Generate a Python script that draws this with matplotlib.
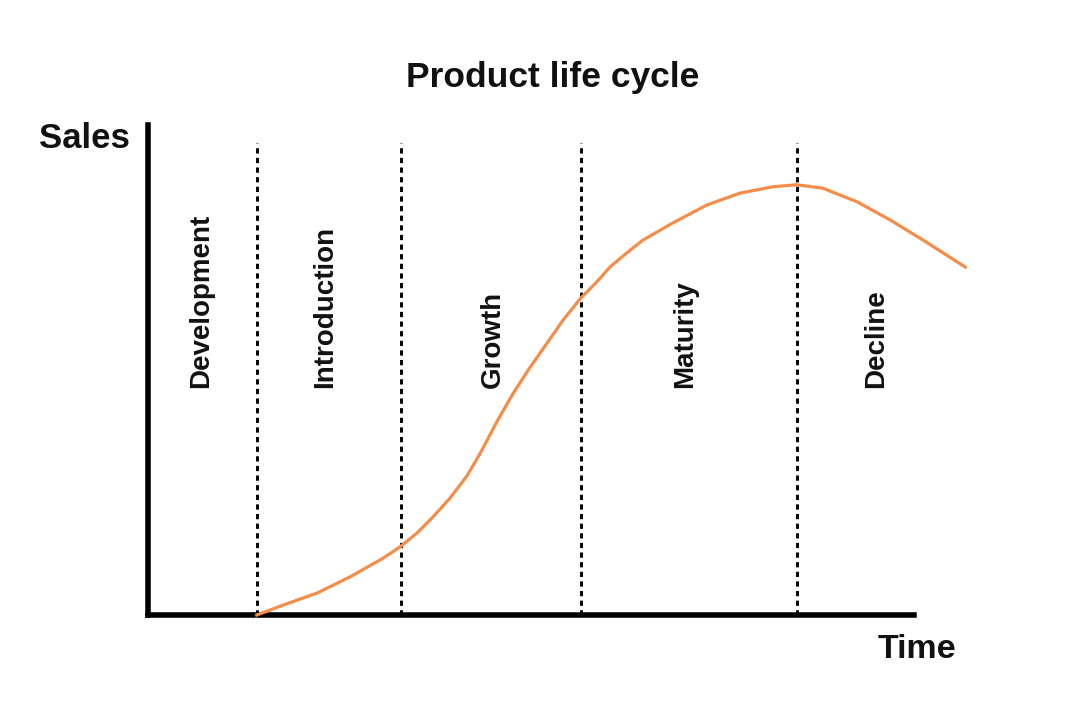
import matplotlib
matplotlib.use("Agg")
import matplotlib.pyplot as plt

plt.rcParams['font.family'] = ['Liberation Sans', 'DejaVu Sans']

# stage boundaries (time units) and stage names
boundaries = [1.42, 3.30, 5.65, 8.47]
stages = ["Development", "Introduction", "Growth", "Maturity", "Decline"]
stage_x = [0.69, 2.31, 4.50, 7.01, 9.50]

# sales curve
time = [1.42, 1.76, 2.21, 2.64, 3.07, 3.29, 3.51, 3.72, 3.94, 4.16, 4.33,
        4.56, 4.77, 4.99, 5.21, 5.42, 5.64, 5.86, 6.03, 6.25, 6.46, 6.85,
        7.30, 7.73, 8.16, 8.47, 8.81, 9.26, 9.69, 10.12, 10.67]
sales = [0.0, 2.0, 4.5, 7.8, 11.6, 13.9, 16.7, 20.0, 23.8, 28.3, 32.8,
         39.6, 45.3, 50.6, 55.5, 60.2, 64.5, 68.0, 71.0, 73.9, 76.5, 80.0,
         83.7, 86.1, 87.4, 87.8, 87.1, 84.3, 80.6, 76.5, 71.0]

fig = plt.figure(figsize=(10.8, 7.2), dpi=100)
ax = fig.add_axes([0.1370, 0.1458, 0.7093, 0.6806])

ax.set_xlim(0, 10)
ax.set_ylim(0, 100)

# dotted stage separators
for b in boundaries:
    ax.plot([b, b], [0, 96.3], color='black', lw=2.1,
            dashes=(1.8, 1.5), zorder=1)

ax.plot(time, sales, color='#f58d4a', lw=2.3, clip_on=False, zorder=3,
        solid_joinstyle='round')

for name, x in zip(stages, stage_x):
    ax.text(x, 46.3, name, rotation=90, ha='center', va='bottom',
            fontsize=20, fontweight='bold', color='#111111')

# axes
for side in ['top', 'right']:
    ax.spines[side].set_visible(False)
ax.spines['left'].set_linewidth(4)
ax.spines['bottom'].set_linewidth(4)
ax.spines['left'].set_capstyle('projecting')
ax.spines['bottom'].set_capstyle('projecting')
ax.set_xticks([])
ax.set_yticks([])

ax.text(-0.235, 95.3, "Sales", ha='right', va='baseline', fontsize=25,
        fontweight='bold', color='#111111')
ax.text(9.53, -8.8, "Time", ha='left', va='baseline', fontsize=24.5,
        fontweight='bold', color='#111111', clip_on=False)

fig.text(0.512, 0.879, "Product life cycle", ha='center', va='baseline',
         fontsize=25.5, fontweight='bold', color='#111111')

fig.savefig('out.png', dpi=100)
